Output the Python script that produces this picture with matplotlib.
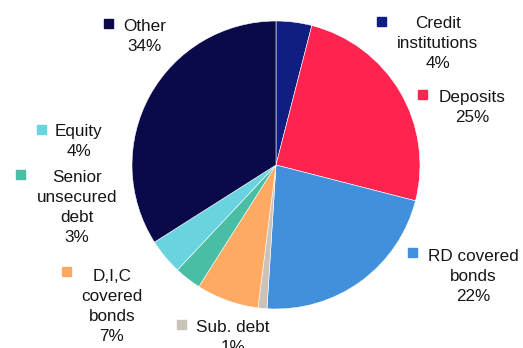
import matplotlib
matplotlib.use("Agg")
import matplotlib.pyplot as plt
from matplotlib.patches import Rectangle

categories = ["Credit\ninstitutions", "Deposits", "RD covered\nbonds", "Sub. debt",
              "D,I,C\ncovered\nbonds", "Senior\nunsecured\ndebt", "Equity", "Other"]
values = [4, 25, 22, 1, 7, 3, 4, 34]
colors = ["#0f1e80", "#ff2450", "#4090dc", "#cbc3b9", "#ffaa62", "#4abea5", "#69d3e0", "#0a0a4a"]

W, H = 523, 348
fig = plt.figure(figsize=(W / 100, H / 100), dpi=100)
ax = fig.add_axes([0, 0, 1, 1])

ax.pie(values, colors=colors, startangle=90, counterclock=False,
       center=(276, H - 165), radius=144,
       wedgeprops=dict(edgecolor="white", linewidth=0.4))

ax.set_xlim(0, W)
ax.set_ylim(0, H)
ax.set_aspect("equal")
ax.axis("off")

# label layout: (marker x, marker y, text center x, first baseline y) in pixels from top-left
layout = [
    (381, 21, 438, 28),
    (422, 94, 472, 102),
    (412, 252, 473, 261),
    (181, 324, 233, 332),
    (66, 271, 112, 281),
    (20, 174, 77, 182),
    (41, 129, 79, 136),
    (108, 23, 145, 31),
]
line_gap = 20

for cat, val, col, (mx, my, tx, by) in zip(categories, values, colors, layout):
    ax.add_patch(Rectangle((mx - 4.5, H - my - 4.5), 9, 9, color=col, clip_on=False))
    lines = cat.split("\n") + [f"{val}%"]
    for i, line in enumerate(lines):
        ax.text(tx, H - (by + i * line_gap), line, ha="center", va="baseline",
                fontsize=12.3, family="Liberation Sans", color="#161616")

fig.savefig("out.png", dpi=100)
